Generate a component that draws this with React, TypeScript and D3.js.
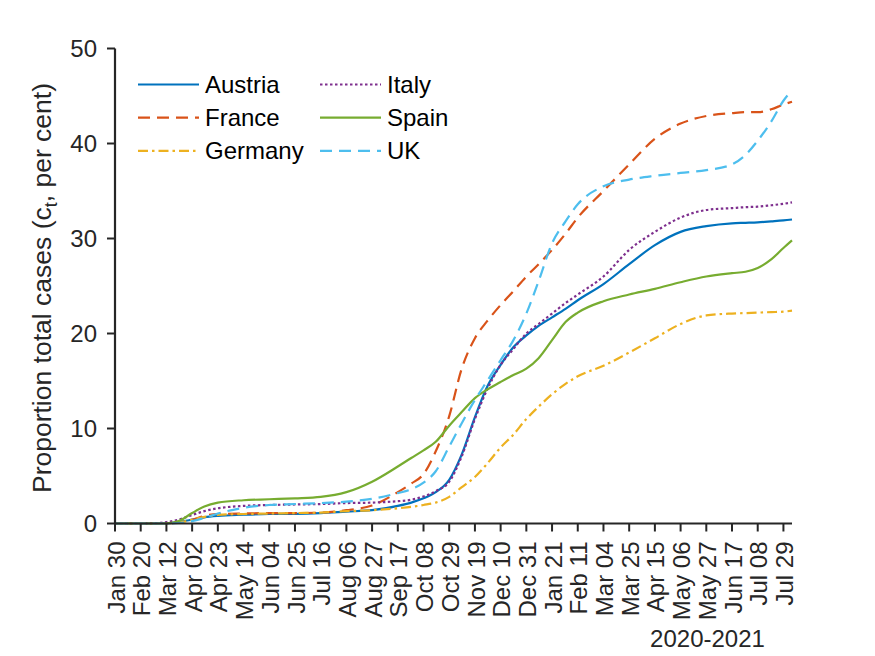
import * as d3 from 'd3'

const WIDTH = 875
const HEIGHT = 656
const MARGIN = { top: 48.5, right: 83, bottom: 132.5, left: 115 }

// sample dates shared by all series
const DATES = [
  '2020-01-30', '2020-02-20', '2020-03-05', '2020-03-12', '2020-03-22', '2020-04-02', '2020-04-12', '2020-04-23',
  '2020-05-14', '2020-06-04', '2020-06-25', '2020-07-16', '2020-08-06', '2020-08-27', '2020-09-17', '2020-09-28',
  '2020-10-08', '2020-10-18', '2020-10-29', '2020-11-08', '2020-11-19', '2020-11-29', '2020-12-10', '2020-12-20',
  '2020-12-31', '2021-01-10', '2021-01-21', '2021-02-01', '2021-02-11', '2021-03-04', '2021-03-25', '2021-04-15',
  '2021-05-06', '2021-05-27', '2021-06-17', '2021-06-28', '2021-07-08', '2021-07-19', '2021-07-29', '2021-08-05',
]

const AUSTRIA = [0, 0, 0, 0.02, 0.15, 0.4, 0.65, 0.8, 0.92, 1.0, 1.02, 1.1, 1.25, 1.4, 1.85, 2.2, 2.65, 3.3, 4.6, 7.2, 11.2, 14.4, 16.7, 18.5, 19.8, 20.8, 21.7, 22.6, 23.5, 25.2, 27.3, 29.3, 30.7, 31.3, 31.6, 31.65, 31.7, 31.8, 31.9, 32.0]
const FRANCE = [0, 0, 0, 0.02, 0.1, 0.4, 0.8, 1.0, 1.05, 1.1, 1.1, 1.15, 1.4, 1.9, 3.3, 4.2, 5.2, 7.6, 11.3, 16.2, 19.5, 21.3, 23.0, 24.4, 26.0, 27.3, 28.8, 30.5, 32.2, 35.0, 37.8, 40.5, 42.1, 42.9, 43.2, 43.3, 43.3, 43.6, 44.1, 44.4]
const GERMANY = [0, 0, 0, 0.02, 0.1, 0.4, 0.7, 0.9, 1.0, 1.05, 1.1, 1.15, 1.3, 1.4, 1.6, 1.75, 1.95, 2.2, 2.8, 3.8, 4.9, 6.3, 8.0, 9.3, 11.0, 12.3, 13.6, 14.7, 15.5, 16.6, 18.0, 19.5, 21.0, 21.9, 22.1, 22.15, 22.2, 22.25, 22.3, 22.4]
const ITALY = [0, 0, 0.05, 0.15, 0.4, 0.9, 1.3, 1.6, 1.85, 1.95, 2.0, 2.05, 2.15, 2.2, 2.35, 2.5, 2.85, 3.4, 4.4, 7.0, 11.0, 14.1, 16.7, 18.3, 20.0, 21.0, 22.1, 23.2, 24.1, 26.0, 28.8, 30.7, 32.2, 33.0, 33.2, 33.3, 33.35, 33.5, 33.65, 33.8]
const SPAIN = [0, 0, 0, 0.02, 0.25, 1.1, 1.8, 2.2, 2.45, 2.55, 2.65, 2.8, 3.3, 4.4, 6.0, 6.9, 7.7, 8.6, 10.3, 11.7, 13.2, 14.1, 14.9, 15.6, 16.3, 17.4, 19.3, 21.2, 22.2, 23.4, 24.1, 24.7, 25.4, 26.0, 26.35, 26.5, 26.9, 27.8, 29.0, 29.8]
const UK = [0, 0, 0, 0, 0.05, 0.25, 0.6, 1.05, 1.65, 1.95, 2.05, 2.15, 2.3, 2.6, 3.2, 3.6, 4.3, 5.5, 8.1, 10.5, 13.0, 15.0, 17.2, 19.2, 22.1, 25.5, 29.5, 31.8, 33.6, 35.5, 36.2, 36.6, 36.9, 37.2, 37.8, 38.8, 40.3, 42.3, 44.5, 45.6]

const TICK_DATES = [
  '2020-01-30', '2020-02-20', '2020-03-12', '2020-04-02', '2020-04-23', '2020-05-14', '2020-06-04', '2020-06-25',
  '2020-07-16', '2020-08-06', '2020-08-27', '2020-09-17', '2020-10-08', '2020-10-29', '2020-11-19', '2020-12-10',
  '2020-12-31', '2021-01-21', '2021-02-11', '2021-03-04', '2021-03-25', '2021-04-15', '2021-05-06', '2021-05-27',
  '2021-06-17', '2021-07-08', '2021-07-29',
]
const Y_TICKS = [0, 10, 20, 30, 40, 50]
const X_DOMAIN = ['2020-01-30', '2021-08-05']

const SERIES = [
  { name: 'Austria', values: AUSTRIA, color: '#0072BD', dash: 'none' },
  { name: 'France', values: FRANCE, color: '#D95319', dash: '12,7' },
  { name: 'Germany', values: GERMANY, color: '#EDB120', dash: '10,4,2.5,4' },
  { name: 'Italy', values: ITALY, color: '#7E2F8E', dash: '2.5,2.5' },
  { name: 'Spain', values: SPAIN, color: '#77AC30', dash: 'none' },
  { name: 'UK', values: UK, color: '#4DBEEE', dash: '12,7' },
]

const FONT = '"Liberation Sans", Arial, Helvetica, sans-serif'
const FS = 24
const LABEL_FS = 26.5
const AXIS = '#262626'

export default function App() {
  const innerW = WIDTH - MARGIN.left - MARGIN.right
  const innerH = HEIGHT - MARGIN.top - MARGIN.bottom
  const parse = (s: string) => new Date(s + 'T00:00:00Z')

  const x = d3.scaleUtc().domain(X_DOMAIN.map(parse)).range([0, innerW])
  const y = d3.scaleLinear().domain([0, 50]).range([innerH, 0])
  const fmt = d3.utcFormat('%b %d')

  const line = d3.line<number>()
    .x((_, i) => x(parse(DATES[i])))
    .y((d) => y(d))
    .curve(d3.curveMonotoneX)

  return (
    <svg width={WIDTH} height={HEIGHT} style={{ position: 'absolute', left: 0, top: 0, background: '#fff' }}
      fontFamily={FONT}>
      <g transform={`translate(${MARGIN.left},${MARGIN.top})`}>
        {/* series */}
        {SERIES.map((s) => (
          <path key={s.name} d={line(s.values) ?? ''} fill="none" stroke={s.color} strokeWidth={2.2}
            strokeDasharray={s.dash} />
        ))}

        {/* y axis */}
        <line x1={0} x2={0} y1={0} y2={innerH} stroke={AXIS} strokeWidth={2.2} />
        {Y_TICKS.map((t) => (
          <g key={t} transform={`translate(0,${y(t)})`}>
            <line x1={-8} x2={0} stroke={AXIS} strokeWidth={2} />
            <text x={-18} dy="0.35em" textAnchor="end" fontSize={FS} fill={AXIS}>{t}</text>
          </g>
        ))}

        {/* x axis */}
        <line x1={0} x2={innerW} y1={innerH} y2={innerH} stroke={AXIS} strokeWidth={2.2} />
        {TICK_DATES.map((t) => (
          <g key={t} transform={`translate(${x(parse(t))},${innerH})`}>
            <line y1={0} y2={8} stroke={AXIS} strokeWidth={2} />
            <text transform="rotate(-90)" x={-18} dy="0.4em" textAnchor="end" fontSize={FS} fill={AXIS}>
              {fmt(parse(t))}
            </text>
          </g>
        ))}
        <text x={592.5} y={598.5} textAnchor="middle" fontSize={FS} fill={AXIS}>2020-2021</text>

        {/* y label */}
        <text transform={`translate(${51 - MARGIN.left},${innerH / 2 + 2}) rotate(-90)`} textAnchor="middle"
          fontSize={LABEL_FS} fill={AXIS}>
          Proportion total cases (c<tspan fontSize={18} dy={6}>t</tspan><tspan dy={-6}>, per cent)</tspan>
        </text>

        {/* legend */}
        {SERIES.map((s, i) => {
          const col = Math.floor(i / 3)
          const row = i % 3
          const lx = 23 + col * 182
          const ly = 36 + row * 33.2
          return (
            <g key={s.name} transform={`translate(${lx},${ly})`}>
              <line x1={0} x2={61} stroke={s.color} strokeWidth={2.2} strokeDasharray={s.dash} />
              <text x={67} dy="0.35em" fontSize={FS} fill="#000">{s.name}</text>
            </g>
          )
        })}
      </g>
    </svg>
  )
}
